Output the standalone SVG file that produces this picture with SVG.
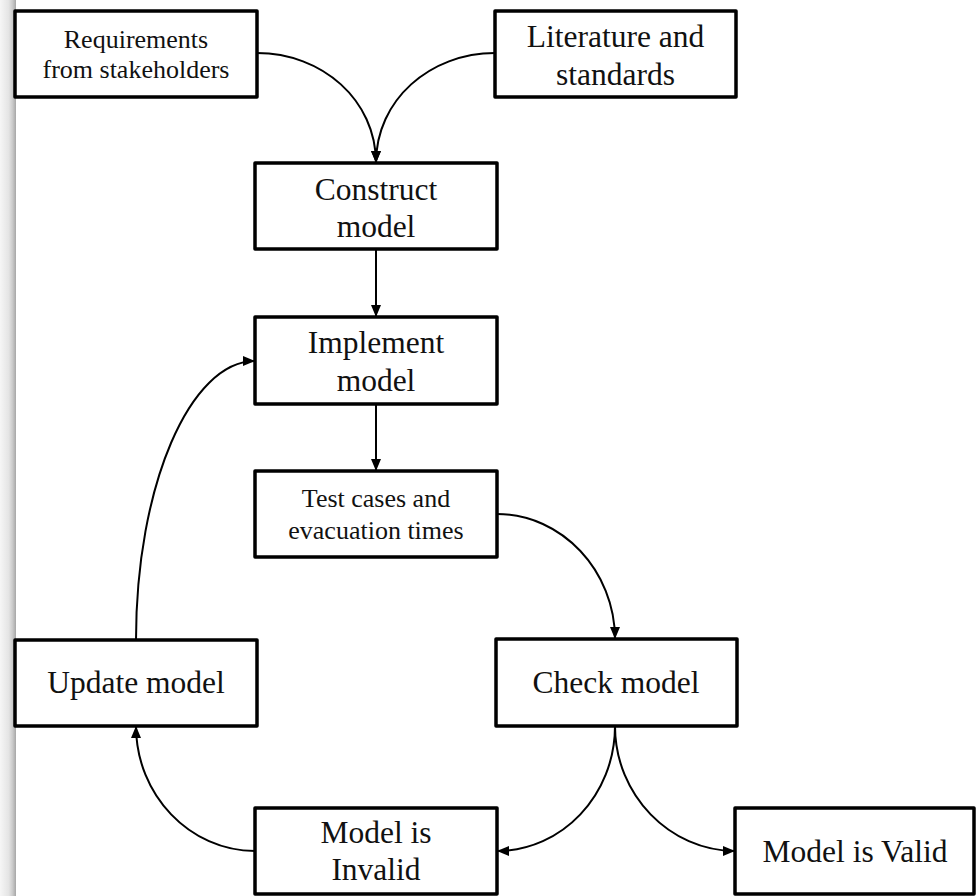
<svg xmlns="http://www.w3.org/2000/svg" width="976" height="896" viewBox="0 0 976 896">
  <defs>
    <linearGradient id="edgeShade" x1="0" y1="0" x2="1" y2="0">
      <stop offset="0" stop-color="#f6f6f6"/>
      <stop offset="0.55" stop-color="#e4e4e4"/>
      <stop offset="0.8" stop-color="#c8c8c8"/>
      <stop offset="1" stop-color="#a6a6a6"/>
    </linearGradient>
    <marker id="arrow" viewBox="0 0 12 10" refX="12" refY="5" markerWidth="12" markerHeight="10" markerUnits="userSpaceOnUse" orient="auto">
      <path d="M0,0 L12,5 L0,10 Z" fill="#000"/>
    </marker>
    <style>
      .box { fill: #fff; stroke: #000; stroke-width: 3.5; stroke-linejoin: round; }
      .lbl { font-family: "Liberation Serif", "Times New Roman", serif; font-size: 31.5px; fill: #111; text-anchor: middle; }
      .sm { font-size: 26px; }
      .edge { fill: none; stroke: #000; stroke-width: 2; marker-end: url(#arrow); }
    </style>
  </defs>

  <rect width="976" height="896" fill="#fff"/>
  <rect x="0" y="0" width="16" height="896" fill="url(#edgeShade)"/>

  <g id="connectors">
    <path class="edge" d="M257,53 C322,53 376,100 376,163"/>
    <path class="edge" d="M495,53 C430,53 376,100 376,163"/>
    <path class="edge" d="M376,249 L376,317"/>
    <path class="edge" d="M376,404 L376,471"/>
    <path class="edge" d="M497,514 C562,514 615,571 615,639"/>
    <path class="edge" d="M615,726 C615,795 562,851 497,851"/>
    <path class="edge" d="M615,726 C615,795 670,851 735,851"/>
    <path class="edge" d="M255,851 C190,851 136,795 136,726"/>
    <path class="edge" d="M136,640 C136,486 190,361 255,361"/>
  </g>

  <g id="requirements">
    <rect class="box" x="15" y="11" width="242" height="86"/>
    <text class="lbl sm" x="136" y="48">Requirements</text>
    <text class="lbl sm" x="136" y="78">from stakeholders</text>
  </g>

  <g id="literature">
    <rect class="box" x="495" y="11" width="241" height="86"/>
    <text class="lbl" x="615.5" y="47">Literature and</text>
    <text class="lbl" x="615.5" y="85">standards</text>
  </g>

  <g id="construct">
    <rect class="box" x="255" y="163" width="242" height="86"/>
    <text class="lbl" x="376" y="200">Construct</text>
    <text class="lbl" x="376" y="237">model</text>
  </g>

  <g id="implement">
    <rect class="box" x="255" y="317" width="242" height="87"/>
    <text class="lbl" x="376" y="353">Implement</text>
    <text class="lbl" x="376" y="391">model</text>
  </g>

  <g id="test-cases">
    <rect class="box" x="255" y="471" width="242" height="86"/>
    <text class="lbl sm" x="376" y="507">Test cases and</text>
    <text class="lbl sm" x="376" y="539">evacuation times</text>
  </g>

  <g id="update">
    <rect class="box" x="15" y="640" width="242" height="86"/>
    <text class="lbl" x="136" y="693">Update model</text>
  </g>

  <g id="check">
    <rect class="box" x="496" y="639" width="241" height="87"/>
    <text class="lbl" x="616" y="693">Check model</text>
  </g>

  <g id="invalid">
    <rect class="box" x="255" y="808" width="242" height="86"/>
    <text class="lbl" x="376" y="843">Model is</text>
    <text class="lbl" x="376" y="880">Invalid</text>
  </g>

  <g id="valid">
    <rect class="box" x="735" y="808" width="239" height="86"/>
    <text class="lbl" x="855" y="862">Model is Valid</text>
  </g>
</svg>
